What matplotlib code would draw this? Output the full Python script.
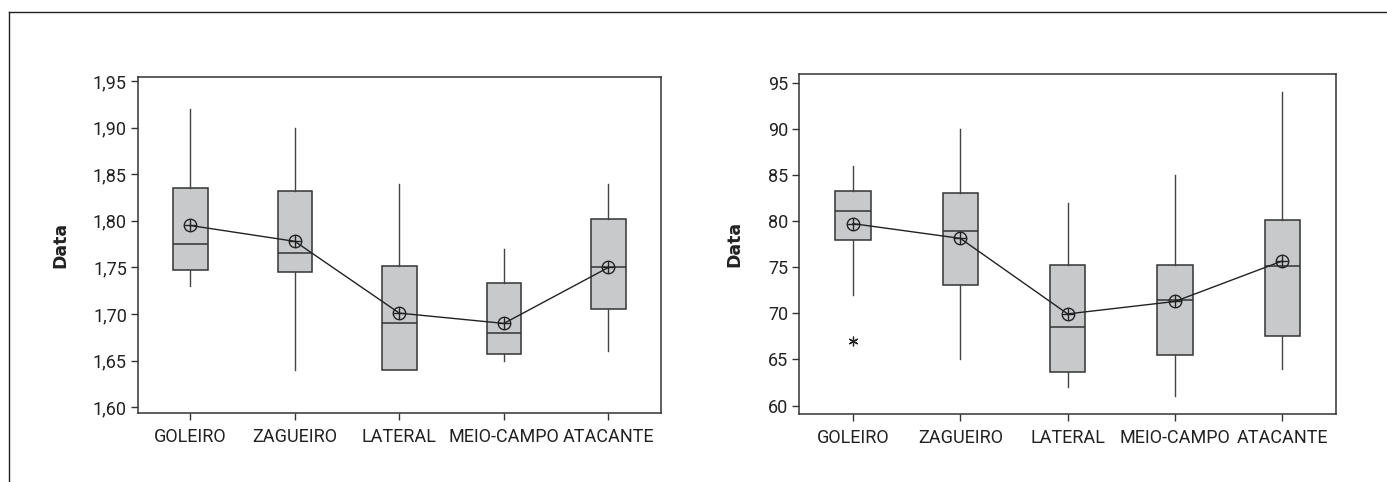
import matplotlib
matplotlib.use("Agg")
import matplotlib.pyplot as plt
from matplotlib.lines import Line2D
from matplotlib.ticker import FuncFormatter

categories = ["GOLEIRO", "ZAGUEIRO", "LATERAL", "MEIO-CAMPO", "ATACANTE"]

# Left panel (height)
h_whislo = [1.73, 1.64, 1.64, 1.65, 1.66]
h_q1 = [1.747, 1.745, 1.64, 1.657, 1.705]
h_med = [1.775, 1.765, 1.69, 1.68, 1.75]
h_q3 = [1.835, 1.832, 1.752, 1.733, 1.802]
h_whishi = [1.92, 1.90, 1.84, 1.77, 1.84]
h_mean = [1.795, 1.778, 1.701, 1.69, 1.75]
h_fliers = [[], [], [], [], []]
h_yticks = [1.60, 1.65, 1.70, 1.75, 1.80, 1.85, 1.90, 1.95]

# Right panel (weight)
w_whislo = [72, 65, 62, 61, 64]
w_q1 = [78.0, 73.1, 63.6, 65.5, 67.5]
w_med = [81.1, 79.0, 68.5, 71.5, 75.1]
w_q3 = [83.3, 83.1, 75.3, 75.3, 80.1]
w_whishi = [86, 90, 82, 85, 94]
w_mean = [79.75, 78.15, 69.95, 71.3, 75.7]
w_fliers = [[67], [], [], [], []]
w_yticks = [60, 65, 70, 75, 80, 85, 90, 95]

plt.rcParams['font.family'] = ['Roboto', 'DejaVu Sans']

W, H = 1387, 482
fig = plt.figure(figsize=(W / 100, H / 100), dpi=100)

# outer frame (left and top lines)
fx = 9.3 / W
fy = 1 - 11.7 / H
fig.add_artist(Line2D([fx, fx], [0, fy], transform=fig.transFigure, color="#222222", lw=1.0))
fig.add_artist(Line2D([fx, 1], [fy, fy], transform=fig.transFigure, color="#222222", lw=1.0))

box_color = "#c8c9cb"
edge = "#333333"
text_color = "#222222"


def panel(rect, whislo, q1, med, q3, whishi, mean, fliers, yticks, ylim, fmt, label_x):
    ax = fig.add_axes(rect)
    stats = []
    for i in range(len(categories)):
        stats.append(dict(whislo=whislo[i], q1=q1[i], med=med[i], q3=q3[i],
                          whishi=whishi[i], fliers=fliers[i], label=categories[i]))
    pos = list(range(1, len(categories) + 1))
    ax.bxp(stats, positions=pos, widths=0.33, patch_artist=True, showcaps=False,
           boxprops=dict(facecolor=box_color, edgecolor=edge, linewidth=1.1),
           medianprops=dict(color=edge, linewidth=1.1),
           whiskerprops=dict(color="#444444", linewidth=1.0),
           flierprops=dict(marker=(6, 2, 0), markersize=7, markeredgecolor="#222222",
                           markeredgewidth=0.9, linestyle="none"))
    ax.plot(pos, mean, color="#222222", lw=1.0, zorder=4)
    ax.plot(pos, mean, linestyle="none", marker="o", markersize=9,
            markerfacecolor="none", markeredgecolor="#222222", markeredgewidth=1.0, zorder=5)
    ax.plot(pos, mean, linestyle="none", marker="+", markersize=9,
            markeredgecolor="#222222", markeredgewidth=1.0, zorder=5)
    ax.set_xlim(0.5, 5.5)
    ax.set_ylim(*ylim)
    ax.set_yticks(yticks)
    ax.yaxis.set_major_formatter(FuncFormatter(fmt))
    ax.set_xticks(pos)
    ax.set_xticklabels(categories)
    ax.tick_params(axis="both", direction="out", length=5, width=1.0, color=edge,
                   labelsize=13, labelcolor=text_color, pad=3)
    ax.tick_params(axis="x", pad=6)
    for s in ax.spines.values():
        s.set_color(edge)
        s.set_linewidth(1.1)
    ax.set_ylabel("Data", fontsize=12.5, fontweight="bold", family="DejaVu Sans",
                  color=text_color)
    ax.yaxis.set_label_coords(label_x, 0.5)
    return ax


ax1 = panel([138 / W, 1 - 413 / H, 522.7 / W, 336.5 / H],
            h_whislo, h_q1, h_med, h_q3, h_whishi, h_mean, h_fliers,
            h_yticks, (1.5939, 1.9548), lambda v, p: f"{v:.2f}".replace(".", ","),
            (69.5 - 138) / 522.7)
ax2 = panel([799.3 / W, 1 - 414 / H, 536.7 / W, 340 / H],
            w_whislo, w_q1, w_med, w_q3, w_whishi, w_mean, w_fliers,
            w_yticks, (59.08, 96.0), lambda v, p: f"{v:.0f}",
            (743 - 799.3) / 536.7)

fig.savefig("out.png", dpi=100)
